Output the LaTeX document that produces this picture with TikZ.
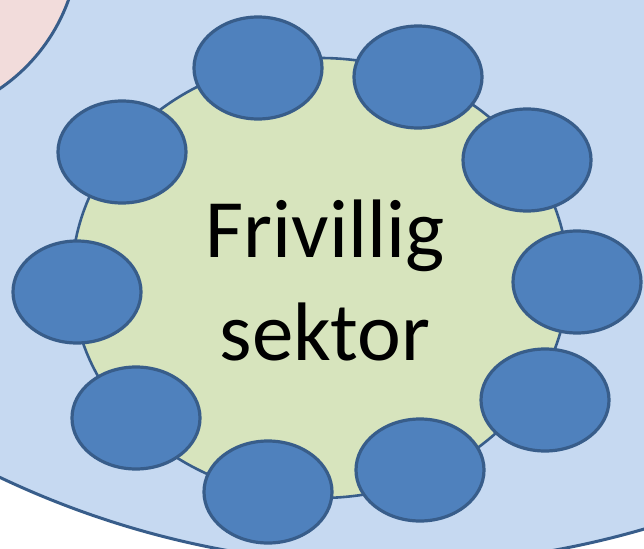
\documentclass[tikz,border=0pt]{standalone}
\usepackage{fontspec}
\setmainfont{Carlito}
\usetikzlibrary{shapes.geometric}
\definecolor{bgblue}{HTML}{C6D9F1}
\definecolor{pinkfill}{HTML}{F2DCDB}
\definecolor{greenfill}{HTML}{D7E4BD}
\definecolor{blobfill}{HTML}{4F81BD}
\definecolor{outl}{HTML}{385D8A}
\tikzset{
  blob/.style={ellipse, fill=blobfill, draw=outl, line width=3.2pt,
    minimum width=128pt, minimum height=102pt, inner sep=0pt},
  centre/.style={ellipse, fill=greenfill, draw=outl, line width=2.6pt,
    minimum width=496pt, minimum height=440pt, inner sep=0pt},
  region/.style={draw=outl, line width=3pt}
}
\begin{document}
\begin{tikzpicture}[x=1pt,y=-1pt]
\useasboundingbox (0,0) rectangle (644,548);
\clip (0,0) rectangle (644,548);
\fill[white] (0,0) rectangle (644,548);
\path[region, fill=bgblue] (390,-345) circle (910);
\path[region, fill=pinkfill] (-102,-61) circle (181);
\node[centre] (sector) at (320,278) {};
\node[font=\fontsize{83}{103}\selectfont, align=center, inner sep=0pt, anchor=base] (label) at (325,360) {Frivillig\\sektor};
\node[blob] (e1) at (258,68) {};
\node[blob] (e2) at (418,77) {};
\node[blob] (e3) at (527,160) {};
\node[blob] (e4) at (577,282) {};
\node[blob] (e5) at (545,400) {};
\node[blob] (e6) at (420,470) {};
\node[blob] (e7) at (268,492) {};
\node[blob] (e8) at (136,418) {};
\node[blob] (e9) at (77,292) {};
\node[blob] (e10) at (122,152) {};
\end{tikzpicture}
\end{document}
